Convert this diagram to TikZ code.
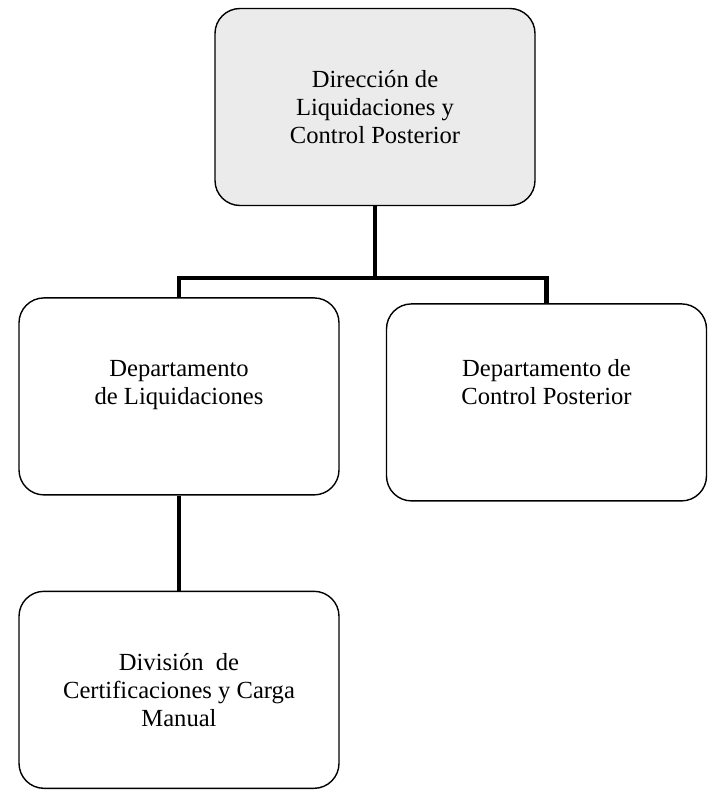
\documentclass[tikz,border=0pt]{standalone}
\usepackage{fontspec}
\setmainfont{Liberation Serif}
\usetikzlibrary{positioning}
\tikzset{
  unit/.style={rectangle,draw,line width=0.8pt,rounded corners=5mm,align=center,inner sep=3pt,minimum width=64mm,minimum height=39.4mm,font=\fontsize{14}{16}\selectfont},
  head/.style={unit,fill=black!8},
  link/.style={line width=2.6pt}
}

\begin{document}
\begin{tikzpicture}[node distance=18mm and 12mm]
\useasboundingbox (0,0) rectangle (142mm,-158mm);
\node[head] (dir) at (75mm,-21.4mm) {Dirección de\\Liquidaciones y\\Control Posterior};
\coordinate[below=14.4mm of dir] (fork);
\node[unit, below=18.2mm of dir, xshift=-39.2mm] (liq) {Departamento\\de Liquidaciones\\{}};
\node[unit, below=19.4mm of dir, xshift=34.3mm] (ctrl) {Departamento de\\Control Posterior\\[2.5mm]{}};
\node[unit, below=19mm of liq] (cert) {División~ de\\Certificaciones y Carga\\Manual};
\draw[link] (dir) -- (fork);
\draw[link] (liq) |- (fork) -| (ctrl);
\draw[link] (liq) -- (cert);
\end{tikzpicture}
\end{document}
